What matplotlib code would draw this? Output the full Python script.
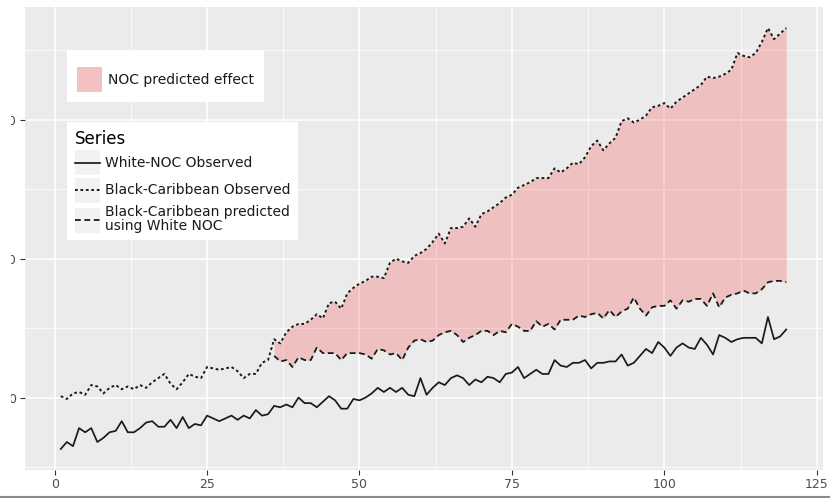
import numpy as np
import matplotlib
matplotlib.use("Agg")
import matplotlib.pyplot as plt
from matplotlib.patches import Patch, Rectangle
from matplotlib.lines import Line2D
from matplotlib.legend_handler import HandlerTuple, HandlerLine2D
from matplotlib.ticker import MultipleLocator

# time index (1..120)
months = np.arange(1, 121)

white_noc_observed = [
    -3.7, -3.2, -3.5, -2.2, -2.5, -2.2, -3.2, -2.9, -2.5, -2.4,
    -1.7, -2.5, -2.5, -2.2, -1.8, -1.7, -2.1, -2.1, -1.6, -2.2,
    -1.4, -2.2, -1.9, -2.0, -1.3, -1.5, -1.7, -1.5, -1.3, -1.6,
    -1.3, -1.5, -0.9, -1.3, -1.2, -0.6, -0.7, -0.5, -0.7, 0.0,
    -0.4, -0.4, -0.7, -0.3, 0.1, -0.2, -0.8, -0.8, -0.1, -0.2,
    0.0, 0.3, 0.7, 0.4, 0.7, 0.4, 0.7, 0.2, 0.1, 1.4,
    0.2, 0.7, 1.1, 0.9, 1.4, 1.6, 1.4, 0.9, 1.3, 1.1,
    1.5, 1.4, 1.1, 1.7, 1.8, 2.2, 1.4, 1.7, 2.0, 1.7,
    1.7, 2.7, 2.3, 2.2, 2.5, 2.5, 2.7, 2.1, 2.5, 2.5,
    2.6, 2.6, 3.1, 2.3, 2.5, 3.0, 3.5, 3.2, 4.0, 3.6,
    3.0, 3.6, 3.9, 3.6, 3.5, 4.3, 3.8, 3.1, 4.5, 4.3,
    4.0, 4.2, 4.3, 4.3, 4.3, 3.9, 5.8, 4.2, 4.4, 4.9,
]

black_carib_observed = [
    0.1, -0.1, 0.3, 0.4, 0.2, 0.9, 0.8, 0.3, 0.7, 0.9,
    0.6, 0.8, 0.6, 0.9, 0.7, 1.1, 1.4, 1.7, 1.0, 0.6,
    1.1, 1.7, 1.5, 1.4, 2.2, 2.1, 2.0, 2.1, 2.2, 1.9,
    1.4, 1.7, 1.7, 2.5, 2.7, 4.2, 3.9, 4.7, 5.1, 5.3,
    5.3, 5.6, 6.0, 5.7, 6.8, 6.9, 6.4, 7.5, 7.9, 8.2,
    8.4, 8.7, 8.7, 8.6, 9.7, 10.0, 9.8, 9.7, 10.2, 10.4,
    10.7, 11.2, 11.8, 11.1, 12.2, 12.2, 12.3, 12.9, 12.3, 13.2,
    13.4, 13.7, 14.0, 14.4, 14.6, 15.1, 15.3, 15.5, 15.8, 15.8,
    15.8, 16.5, 16.2, 16.5, 16.9, 16.8, 17.3, 18.1, 18.5, 17.8,
    18.3, 18.7, 19.9, 20.1, 19.8, 20.0, 20.3, 20.9, 21.0, 21.2,
    20.8, 21.3, 21.6, 21.9, 22.2, 22.5, 23.1, 23.0, 23.1, 23.3,
    23.6, 24.8, 24.6, 24.5, 24.8, 25.6, 26.6, 25.8, 26.2, 26.6,
]

# prediction only exists from month 36 onwards
pred_months = np.arange(36, 121)
black_carib_predicted = [
    3.0, 2.6, 2.7, 2.2, 2.9,
    2.7, 2.7, 3.6, 3.2, 3.2, 3.2, 2.7, 3.2, 3.2, 3.2,
    3.1, 2.8, 3.5, 3.4, 3.1, 3.2, 2.7, 3.6, 4.1, 4.2,
    4.0, 4.1, 4.5, 4.7, 4.8, 4.5, 4.0, 4.3, 4.5, 4.8,
    4.8, 4.5, 4.8, 4.7, 5.3, 5.1, 4.8, 4.8, 5.5, 5.1,
    5.3, 4.9, 5.6, 5.6, 5.6, 5.9, 5.8, 6.0, 6.1, 5.7,
    6.3, 5.8, 6.2, 6.4, 7.2, 6.4, 5.9, 6.5, 6.6, 6.6,
    7.0, 6.4, 7.0, 6.9, 7.1, 7.1, 6.6, 7.5, 6.5, 7.2,
    7.4, 7.5, 7.7, 7.5, 7.5, 7.8, 8.3, 8.4, 8.4, 8.3,
]

y_ticks = [0, 10, 20]
x_ticks = [0, 25, 50, 75, 100, 125]

line_col = "#1a1a1a"
fill_col = "#ff0000"
fill_alpha = 0.18
dotted = (0, (1.4, 1.4))
dashed = (0, (3.2, 2.0))


class CenteredLine(HandlerLine2D):
    # put the legend line in the middle of the key box
    def create_artists(self, legend, orig_handle, xdescent, ydescent, width, height, fontsize, trans):
        arts = super().create_artists(legend, orig_handle, xdescent, ydescent, width, height, fontsize, trans)
        for a in arts:
            a.set_ydata(np.full(len(a.get_xdata()), height / 2 - ydescent))
        return arts


fig = plt.figure(figsize=(8.3, 4.98), dpi=100)
ax = fig.add_axes([24.5 / 830, 1 - 470 / 498, 798 / 830, 463 / 498])
ax.set_facecolor("#EBEBEB")
for s in ax.spines.values():
    s.set_visible(False)

obs = np.array(black_carib_observed)
ax.fill_between(pred_months, black_carib_predicted, obs[pred_months - 1],
                color=fill_col, alpha=fill_alpha, linewidth=0, zorder=2)
ax.plot(months, white_noc_observed, color=line_col, lw=1.25, zorder=3)
ax.plot(months, black_carib_observed, color=line_col, lw=1.4,
        linestyle=dotted, zorder=3)
ax.plot(pred_months, black_carib_predicted, color=line_col, lw=1.3,
        linestyle=dashed, zorder=3)

# ggplot-like 5% expansion
allv = np.concatenate([white_noc_observed, black_carib_observed, black_carib_predicted])
lo, hi = allv.min(), allv.max()
ax.set_ylim(lo - 0.05 * (hi - lo), hi + 0.05 * (hi - lo))
ax.set_xlim(1 - 0.05 * 119, 120 + 0.05 * 119)

ax.set_xticks(x_ticks)
ax.set_yticks(y_ticks)
ax.set_yticklabels([str(v) for v in y_ticks])
ax.xaxis.set_minor_locator(MultipleLocator(12.5))
ax.yaxis.set_minor_locator(MultipleLocator(5))
ax.grid(which="major", color="white", lw=1.1)
ax.grid(which="minor", color="white", lw=0.55)
ax.set_axisbelow(True)
ax.tick_params(which="major", length=3.3, width=0.8, color="#333333",
               labelsize=9, labelcolor="#4D4D4D", pad=2.5)
ax.tick_params(which="minor", length=0)

fs = 10
# key area of 18pt (25px): fs*hh - 0.35*fs*(hh-0.7) = 18
hh = (18 / fs - 0.245) / 0.65
hl = 18 / fs
hmap = {tuple: HandlerTuple(ndivide=1, pad=0), Line2D: CenteredLine()}

key_bg = Patch(facecolor="#F2F2F2", edgecolor="none")
leg1 = ax.legend(handles=[(key_bg, Patch(facecolor=fill_col, alpha=fill_alpha + 0.02, edgecolor="none"))],
                 labels=["NOC predicted effect"], handler_map=hmap,
                 loc="upper left", bbox_to_anchor=(67 / 830, 1 - 50 / 498),
                 bbox_transform=fig.transFigure, borderaxespad=0,
                 fontsize=fs, title=" ", title_fontsize=3.5,
                 handlelength=hl, handleheight=hh, handletextpad=0.4,
                 borderpad=0.72, labelspacing=0.18,
                 frameon=True, fancybox=False, framealpha=1,
                 facecolor="white", edgecolor="none")
ax.add_artist(leg1)

series_handles = [
    (key_bg, Line2D([], [], color=line_col, lw=1.25)),
    (key_bg, Line2D([], [], color=line_col, lw=1.4, linestyle=dotted)),
    (key_bg, Line2D([], [], color=line_col, lw=1.3, linestyle=dashed)),
]
series_labels = ["White-NOC Observed", "Black-Caribbean Observed",
                 "Black-Caribbean predicted\nusing White NOC"]
leg2 = ax.legend(handles=series_handles, labels=series_labels, handler_map=hmap,
                 loc="upper left", bbox_to_anchor=(67 / 830, 1 - 122 / 498),
                 bbox_transform=fig.transFigure, borderaxespad=0,
                 fontsize=fs, title="Series", title_fontsize=12, alignment="left",
                 handlelength=hl, handleheight=hh, handletextpad=0.4,
                 borderpad=0.55, labelspacing=0.18,
                 frameon=True, fancybox=False, framealpha=1,
                 facecolor="white", edgecolor="none")
leg2.get_texts()[2].set_linespacing(0.95)
for t in leg1.get_texts() + leg2.get_texts():
    t.set_color("#1a1a1a")

# the source image is cropped at the left edge and has a grey rule at the bottom
fig.add_artist(Rectangle((0, 0), 10.5 / 830, 1, transform=fig.transFigure,
                         facecolor="white", edgecolor="none", zorder=10))
fig.add_artist(Line2D([0, 1], [1.5 / 498, 1.5 / 498], transform=fig.transFigure,
                      color="#8a8a8a", lw=1.5, zorder=10))

fig.savefig("out.png", dpi=100)
